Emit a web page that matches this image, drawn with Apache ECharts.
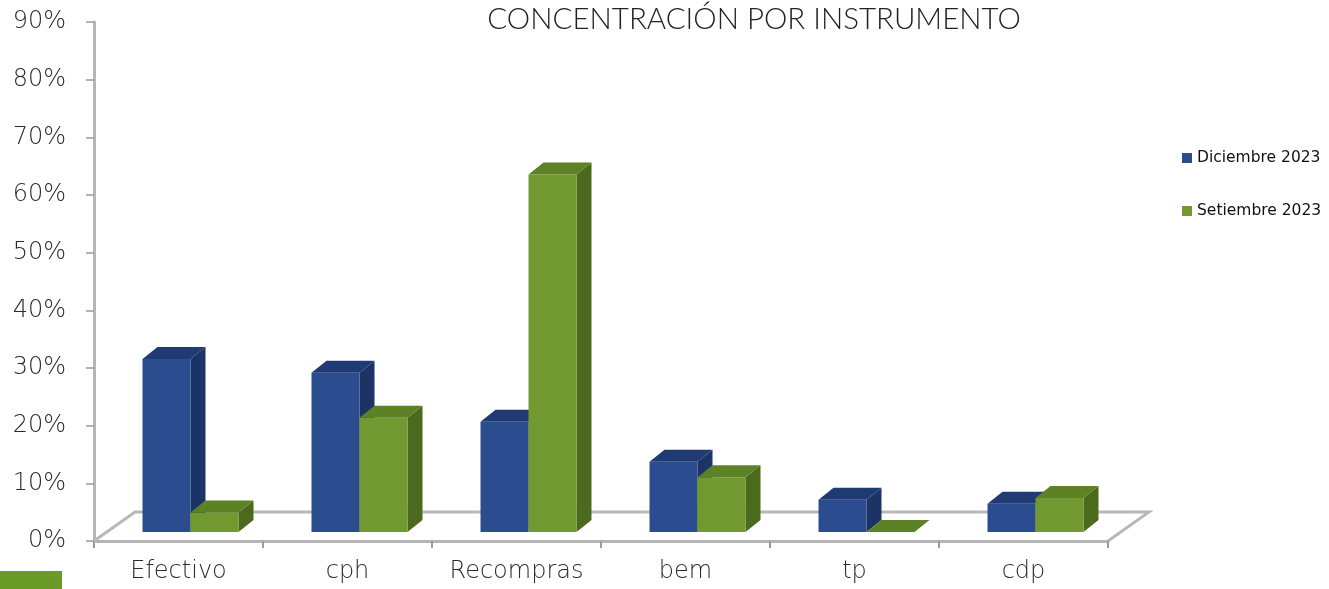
<!DOCTYPE html>
<html>
<head>
<meta charset="utf-8">
<script src="https://cdn.jsdelivr.net/npm/echarts@6/dist/echarts.min.js"></script>
<style>html,body{margin:0;padding:0;background:#fff}#c{width:1329px;height:589px}</style>
</head>
<body>
<div id="c"></div>
<script>
var categories = ['Efectivo', 'cph', 'Recompras', 'bem', 'tp', 'cdp'];
var diciembre = [30.0, 27.6, 19.1, 12.2, 5.6, 4.9];
var setiembre = [3.4, 19.8, 62.0, 9.5, 0, 5.9];
var seriesNames = ['Diciembre 2023', 'Setiembre 2023'];
var yTicks = [0, 10, 20, 30, 40, 50, 60, 70, 80, 90];

var PLANE_DX = 12, PLANE_DY = -9;   // bar plane offset from the front plane
var BAR_DX = 15, BAR_DY = -12;      // bar depth
var FLOOR_DX = 41, FLOOR_DY = -29;  // floor depth
var BAR_RATIO = 0.284;

var palettes = [
  {front: '#2b4c8e', side: '#1c3365', top: '#203b74'},
  {front: '#72992f', side: '#4c6a1c', top: '#5d8225'}
];

function makeRender(seriesIdx) {
  return function (params, api) {
    var cat = api.value(0), v = api.value(1);
    var top = api.coord([cat, v]);
    var base = api.coord([cat, 0]);
    var band = api.size([1, 0])[0];
    var w = band * BAR_RATIO;
    var cx = top[0] + PLANE_DX;
    var x0 = seriesIdx === 0 ? cx - w : cx;
    var x1 = x0 + w;
    var yt = top[1] + PLANE_DY;
    var yb = base[1] + PLANE_DY;
    var p = palettes[seriesIdx];
    return {
      type: 'group',
      children: [
        {type: 'polygon', shape: {points: [[x1, yt], [x1 + BAR_DX, yt + BAR_DY], [x1 + BAR_DX, yb + BAR_DY], [x1, yb]]}, style: {fill: p.side}},
        {type: 'rect', shape: {x: x0, y: yt, width: w, height: yb - yt}, style: {fill: p.front}},
        {type: 'polygon', shape: {points: [[x0, yt], [x1, yt], [x1 + BAR_DX, yt + BAR_DY], [x0 + BAR_DX, yt + BAR_DY]]}, style: {fill: p.top}}
      ]
    };
  };
}

var chart = echarts.init(document.getElementById('c'), null, {renderer: 'canvas'});
var labelFont = {fontFamily: 'DejaVu Sans', fontWeight: 200, fontSize: 24, color: '#2b2b2b'};

var option = {
  backgroundColor: '#ffffff',
  animation: false,
  title: {
    text: 'CONCENTRACIÓN POR INSTRUMENTO',
    left: 749, top: -1, textAlign: 'center',
    textStyle: {fontFamily: 'Lato', fontWeight: 300, fontSize: 29.5, color: '#222'}
  },
  legend: {
    orient: 'vertical', left: 1182, top: 150, itemGap: 37, padding: 0,
    itemWidth: 10, itemHeight: 10, icon: 'rect',
    textStyle: {fontFamily: 'DejaVu Sans', fontSize: 15.5, color: '#111'},
    data: seriesNames.map(function (n, i) { return {name: n, itemStyle: {color: palettes[i].front}}; })
  },
  grid: {left: 94, right: 221, top: 22, bottom: 48, containLabel: false},
  xAxis: {
    type: 'category', data: categories,
    axisLine: {lineStyle: {color: '#b5b5b5', width: 3}},
    axisTick: {show: true, interval: 0, length: 7, lineStyle: {color: '#9a9a9a', width: 2}},
    axisLabel: Object.assign({margin: 19, interval: 0}, labelFont),
    splitLine: {show: false}
  },
  yAxis: {
    type: 'value', min: 0, max: 90, interval: 10,
    axisLine: {show: true, lineStyle: {color: '#b5b5b5', width: 3}},
    axisTick: {show: true, length: 8, lineStyle: {color: '#9a9a9a', width: 1.5}},
    axisLabel: Object.assign({margin: 28, formatter: function (v) { return yTicks.indexOf(v) >= 0 ? v + '%' : ''; }}, labelFont),
    splitLine: {show: false}
  },
  series: [
    {name: seriesNames[0], type: 'custom', renderItem: makeRender(0), itemStyle: {color: palettes[0].front},
     data: diciembre.map(function (v, i) { return [i, v]; }), z: 3},
    {name: seriesNames[1], type: 'custom', renderItem: makeRender(1), itemStyle: {color: palettes[1].front},
     data: setiembre.map(function (v, i) { return [i, v]; }), z: 4}
  ]
};
chart.setOption(option);

// floor outline derived from the axis scale
var fl = chart.convertToPixel({gridIndex: 0}, [0, 0]);
var band = chart.getModel().getComponent('xAxis', 0).axis.getBandWidth();
var xL = fl[0] - band / 2, xR = fl[0] + band * (categories.length - 0.5), y0 = fl[1];
var floorStyle = {stroke: '#b8b8b8', lineWidth: 3, fill: null};
chart.setOption({
  graphic: [
    {type: 'polyline', z: 1, shape: {points: [[xL, y0], [xL + FLOOR_DX, y0 + FLOOR_DY], [xR + FLOOR_DX, y0 + FLOOR_DY], [xR, y0]]}, style: floorStyle},
    {type: 'rect', left: 0, top: 571, shape: {width: 62, height: 18}, style: {fill: '#6a9a28'}}
  ]
});
</script>
</body>
</html>
